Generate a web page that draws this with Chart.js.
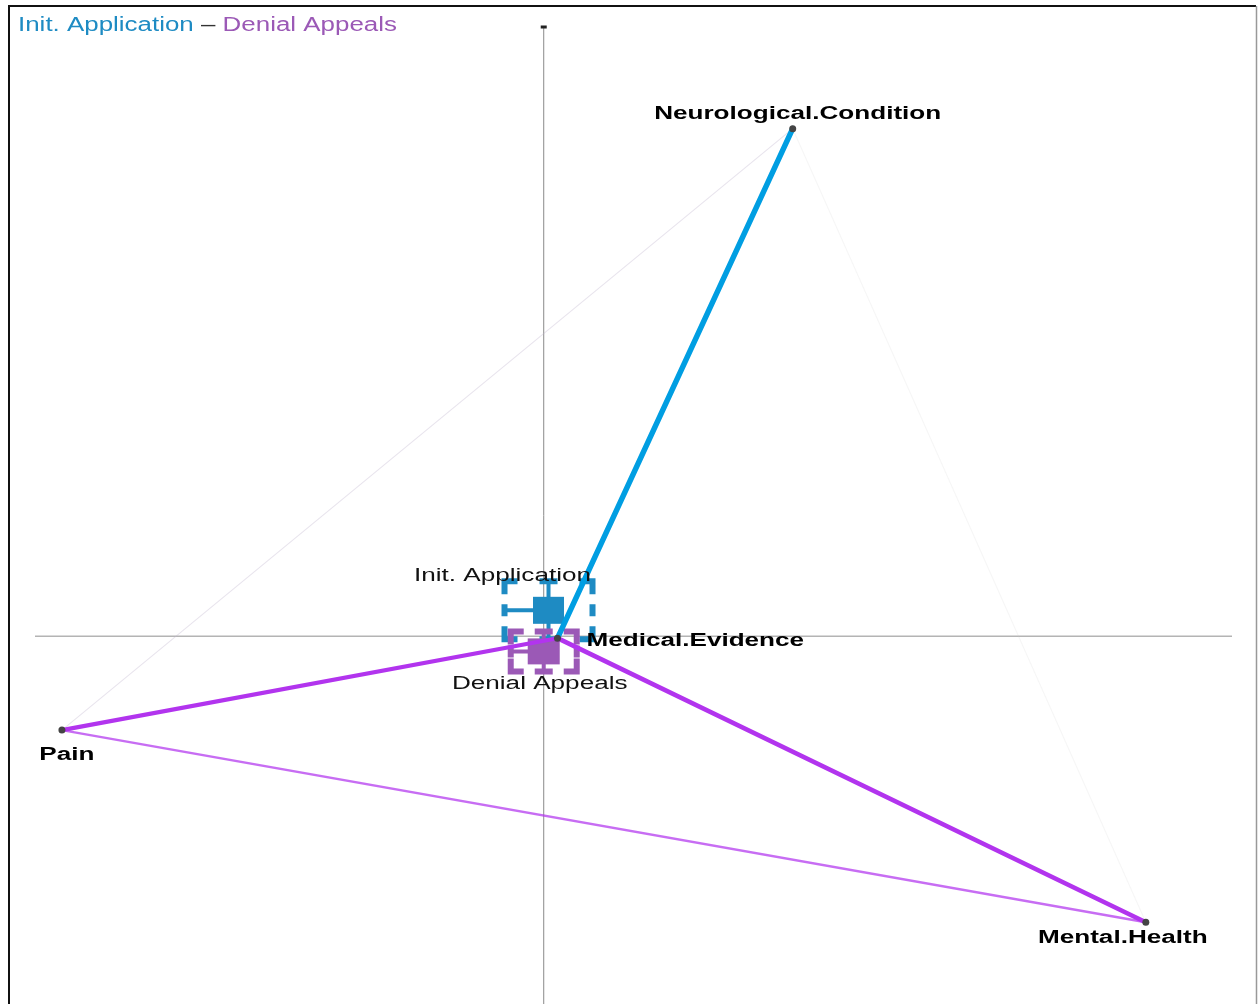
<!DOCTYPE html>
<html>
<head>
<meta charset="utf-8">
<script src="https://cdn.jsdelivr.net/npm/chart.js@4.4.0/dist/chart.umd.min.js"></script>
<style>
  html, body { margin: 0; padding: 0; background: #fff; }
  #wrap { width: 1258px; height: 1004px; position: relative; }
</style>
</head>
<body>
<div id="wrap"><canvas id="net" width="1258" height="1004"></canvas></div>
<script>
// variable nodes
const nodeNames = ["Neurological.Condition", "Medical.Evidence", "Pain", "Mental.Health"];
const nodeX = [0.416, 0.023, -0.805, 1.006];
const nodeY = [1.038, -0.004, -0.192, -0.585];

// group glyphs
const groupNames = ["Init. Application", "Denial Appeals"];
const groupX = [0.008, 0.0];
const groupY = [0.053, -0.031];
const groupColors = ["#1e8bc3", "#9b59b6"];

// edges between nodes (index into nodeNames), weight and group (-1 = none)
const edgeFrom = [0, 1, 1, 2, 2, 0];
const edgeTo = [1, 3, 2, 3, 0, 3];
const edgeWeight = [1.0, 0.8, 0.7, 0.3, 0.02, 0.02];
const edgeGroup = [0, 1, 1, 1, 1, -1];

const edgeRgb = ["0,158,226", "178,52,238"];
const FONT = '"Liberation Sans", Arial, sans-serif';
const SX = 1.45; // text in the reference is stretched horizontally

function edgeColor(i) {
  const w = edgeWeight[i];
  const a = w >= 0.5 ? 1 : 0.12 + w * 2;
  if (edgeGroup[i] < 0) return "rgba(200,200,200," + a + ")";
  if (w < 0.1) return "rgba(190,180,205," + (a + 0.2) + ")";
  return "rgba(" + edgeRgb[edgeGroup[i]] + "," + a + ")";
}

const edgeSets = edgeFrom.map((f, i) => ({
  type: "line",
  data: [{ x: nodeX[f], y: nodeY[f] }, { x: nodeX[edgeTo[i]], y: nodeY[edgeTo[i]] }],
  showLine: true,
  borderColor: edgeColor(i),
  borderWidth: 1 + 4.5 * edgeWeight[i],
  borderCapStyle: "round",
  pointRadius: 0,
  order: Math.round((1 - edgeWeight[i]) * 100) + 1,
}));

function stretchText(ctx, text, x, y, size, weight, sx, align, color) {
  ctx.save();
  ctx.font = weight + " " + size + "px " + FONT;
  ctx.fillStyle = color;
  ctx.textBaseline = "alphabetic";
  ctx.textAlign = "left";
  const w = ctx.measureText(text).width * sx;
  const left = align === "center" ? x - w / 2 : align === "right" ? x - w : x;
  ctx.translate(left, y);
  ctx.scale(sx, 1);
  ctx.fillText(text, 0, 0);
  ctx.restore();
  return w;
}

function drawGlyph(ctx, cx, cy, w, h, inner, color) {
  const l = cx - w / 2, r = cx + w / 2, t = cy - h / 2, b = cy + h / 2;
  const c = 13, m = 18;
  ctx.save();
  ctx.strokeStyle = color;
  ctx.fillStyle = color;
  ctx.lineWidth = 6;
  ctx.lineCap = "butt";
  ctx.beginPath();
  // corners
  ctx.moveTo(l, t + c); ctx.lineTo(l, t); ctx.lineTo(l + c, t);
  ctx.moveTo(r - c, t); ctx.lineTo(r, t); ctx.lineTo(r, t + c);
  ctx.moveTo(r, b - c); ctx.lineTo(r, b); ctx.lineTo(r - c, b);
  ctx.moveTo(l + c, b); ctx.lineTo(l, b); ctx.lineTo(l, b - c);
  // side centres
  ctx.moveTo(cx - m / 2, t); ctx.lineTo(cx + m / 2, t);
  ctx.moveTo(cx - m / 2, b); ctx.lineTo(cx + m / 2, b);
  ctx.moveTo(l, cy - m / 2 + 3); ctx.lineTo(l, cy + m / 2 - 3);
  ctx.moveTo(r, cy - m / 2 + 3); ctx.lineTo(r, cy + m / 2 - 3);
  ctx.stroke();
  // spokes
  ctx.lineWidth = 4;
  ctx.beginPath();
  ctx.moveTo(l, cy); ctx.lineTo(cx, cy);
  ctx.moveTo(cx, t); ctx.lineTo(cx, b);
  ctx.stroke();
  ctx.fillRect(cx - inner[0] / 2, cy - inner[1] / 2, inner[0], inner[1]);
  ctx.restore();
}

const backdrop = {
  id: "backdrop",
  beforeDatasetsDraw(chart) {
    const { ctx, chartArea, scales } = chart;
    const x0 = scales.x.getPixelForValue(0);
    const y0 = scales.y.getPixelForValue(0);
    ctx.save();
    ctx.strokeStyle = "#b4b4b4";
    ctx.lineWidth = 1.5;
    ctx.beginPath();
    ctx.moveTo(chartArea.left, y0); ctx.lineTo(chartArea.right, y0);
    ctx.stroke();
    ctx.strokeStyle = "#8a8a8a";
    ctx.lineWidth = 1;
    ctx.beginPath();
    ctx.moveTo(x0, chartArea.top); ctx.lineTo(x0, chart.height);
    ctx.stroke();
    ctx.fillStyle = "#222";
    ctx.fillRect(x0 - 3, chartArea.top - 1.5, 6, 3);
    ctx.restore();

    const sizes = [[88, 58, [31, 27]], [66, 40, [32, 26]]];
    groupNames.forEach((g, i) => {
      drawGlyph(ctx, scales.x.getPixelForValue(groupX[i]), scales.y.getPixelForValue(groupY[i]),
        sizes[i][0], sizes[i][1], sizes[i][2], groupColors[i]);
    });
  },
  afterDraw(chart) {
    const ctx = chart.ctx;
    ctx.save();
    ctx.strokeStyle = "#111";
    ctx.lineWidth = 2;
    ctx.beginPath();
    ctx.moveTo(9, chart.height); ctx.lineTo(9, 6); ctx.lineTo(1256, 6);
    ctx.stroke();
    ctx.strokeStyle = "#999";
    ctx.lineWidth = 1.5;
    ctx.beginPath();
    ctx.moveTo(1256.5, 6); ctx.lineTo(1256.5, chart.height);
    ctx.stroke();
    ctx.restore();
  },
};

const labelDx = [5, 29, 5, -23];
const labelDy = [-10, 8, 30, 21];
const labelAlign = ["center", "left", "center", "center"];
const groupLabelDx = [-46, -4];
const groupLabelDy = [-29, 38];

const labels = {
  id: "labels",
  afterDatasetsDraw(chart) {
    const { ctx, scales } = chart;
    nodeNames.forEach((n, i) => {
      stretchText(ctx, n, scales.x.getPixelForValue(nodeX[i]) + labelDx[i],
        scales.y.getPixelForValue(nodeY[i]) + labelDy[i], 18, "bold", SX, labelAlign[i], "#000");
    });
    groupNames.forEach((g, i) => {
      stretchText(ctx, g, scales.x.getPixelForValue(groupX[i]) + groupLabelDx[i],
        scales.y.getPixelForValue(groupY[i]) + groupLabelDy[i], 18, "normal", SX, "center", "#111");
    });
    // title legend
    let x = 18;
    x += stretchText(ctx, groupNames[0], x, 31, 20, "normal", 1.296, "left", groupColors[0]);
    x += stretchText(ctx, " \u2013 ", x, 31, 20, "normal", 1.296, "left", "#333");
    stretchText(ctx, groupNames[1], x, 31, 20, "normal", 1.296, "left", groupColors[1]);
  },
};

new Chart(document.getElementById("net"), {
  type: "scatter",
  data: {
    datasets: [
      {
        data: nodeX.map((x, i) => ({ x, y: nodeY[i] })),
        pointRadius: 3.5,
        pointBackgroundColor: "#444",
        pointBorderWidth: 0,
        order: 0,
      },
      ...edgeSets,
    ],
  },
  options: {
    responsive: false,
    animation: false,
    layout: { padding: { left: 35, right: 26, top: 27, bottom: 0 } },
    scales: {
      x: { type: "linear", min: -0.85, max: 1.15, display: false },
      y: { type: "linear", min: -0.744, max: 1.246, display: false },
    },
    plugins: { legend: { display: false }, tooltip: { enabled: false } },
  },
  plugins: [backdrop, labels],
});
</script>
</body>
</html>
